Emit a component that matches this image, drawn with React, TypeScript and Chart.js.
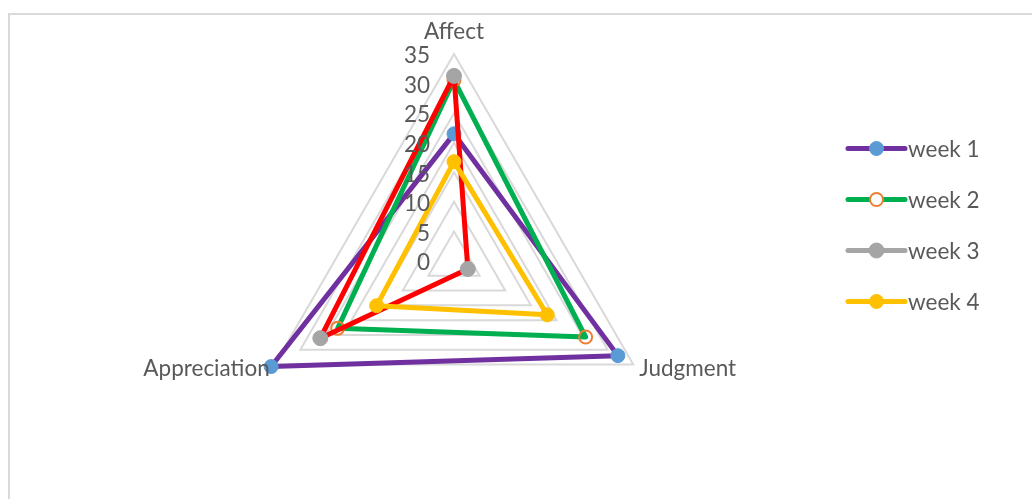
import React, { useEffect, useRef } from "react";
import { Chart, registerables } from "chart.js";

Chart.register(...registerables);

// ---- data ----
const categories = ["Affect", "Judgment", "Appreciation"];
const seriesNames = ["week 1", "week 2", "week 3", "week 4"];
const week1 = [21.5, 32, 35.7];
const week2 = [30.6, 25.7, 22.7];
const week3 = [31.3, 2.7, 26.1];
const week4 = [16.8, 18.2, 15.1];
const axisMin = 0;
const axisMax = 35;
const axisStep = 5;

// ---- styles ----
const FONT_FAMILY = "Lato, 'Open Sans', sans-serif";
const TEXT_COLOR = "#595959";
const GRID_COLOR = "#D9D9D9";

const lineColors = ["#7030A0", "#00B050", "#FF0000", "#FFC000"];
const legendLineColors = ["#7030A0", "#00B050", "#A5A5A5", "#FFC000"];
const markerFill = ["#5B9BD5", "rgba(255,255,255,0)", "#A5A5A5", "#FFC000"];
const markerStroke = ["#5B9BD5", "#ED7D31", "#A5A5A5", "#FFC000"];
const markerRadius = [7, 6.5, 7.5, 7];
const markerBorderWidth = [1, 2, 1, 1];

const overlayPlugin = {
  id: "overlay",
  beforeDraw(chart: any) {
    const ctx = chart.ctx as CanvasRenderingContext2D;
    ctx.save();
    ctx.fillStyle = "#FFFFFF";
    ctx.fillRect(0, 0, chart.width, chart.height);
    ctx.strokeStyle = GRID_COLOR;
    ctx.lineWidth = 2;
    ctx.beginPath();
    ctx.moveTo(9, chart.height + 2);
    ctx.lineTo(9, 14);
    ctx.lineTo(chart.width + 2, 14);
    ctx.stroke();
    ctx.restore();
  },
  afterDraw(chart: any) {
    const ctx = chart.ctx as CanvasRenderingContext2D;
    const scale = chart.scales.r;
    ctx.save();
    ctx.fillStyle = TEXT_COLOR;
    ctx.font = `22.5px ${FONT_FAMILY}`;

    // tick labels, left of the first axis
    ctx.textAlign = "right";
    ctx.textBaseline = "middle";
    scale.ticks.forEach((t: any) => {
      const p = scale.getPointPositionForValue(0, t.value);
      ctx.fillText(String(t.value), p.x - 24, p.y + 2);
    });

    // point labels
    categories.forEach((label, i) => {
      const p = scale.getPointPositionForValue(i, axisMax);
      const dx = p.x - scale.xCenter;
      ctx.textBaseline = "middle";
      if (Math.abs(dx) < 1) {
        ctx.textAlign = "center";
        ctx.fillText(label, p.x, p.y - 22);
      } else if (dx > 0) {
        ctx.textAlign = "left";
        ctx.fillText(label, p.x + 6, p.y + 4);
      } else {
        ctx.textAlign = "right";
        ctx.fillText(label, p.x - 5, p.y + 4);
      }
    });

    // legend
    const lx0 = 848;
    const lx1 = 905;
    const ly0 = 148.5;
    const lgap = 51;
    seriesNames.forEach((name, i) => {
      const y = ly0 + i * lgap;
      ctx.strokeStyle = legendLineColors[i];
      ctx.lineWidth = 5;
      ctx.lineCap = "round";
      ctx.beginPath();
      ctx.moveTo(lx0, y);
      ctx.lineTo(lx1, y);
      ctx.stroke();
      const mx = (lx0 + lx1) / 2;
      ctx.beginPath();
      ctx.arc(mx, y, markerRadius[i], 0, Math.PI * 2);
      ctx.fillStyle = i === 1 ? "#FFFFFF" : markerFill[i];
      ctx.fill();
      ctx.strokeStyle = markerStroke[i];
      ctx.lineWidth = markerBorderWidth[i];
      ctx.stroke();
      ctx.fillStyle = TEXT_COLOR;
      ctx.textAlign = "left";
      ctx.textBaseline = "middle";
      ctx.fillText(name, lx1 + 3, y + 1);
    });
    ctx.restore();
  },
};

export default function App() {
  const canvasRef = useRef<HTMLCanvasElement | null>(null);

  useEffect(() => {
    if (!canvasRef.current) return;
    const series = [week1, week2, week3, week4];
    const chart = new Chart(canvasRef.current, {
      type: "radar",
      data: {
        labels: categories,
        datasets: series.map((values, i) => ({
          label: seriesNames[i],
          data: values,
          borderColor: lineColors[i],
          backgroundColor: lineColors[i],
          borderWidth: 5,
          borderJoinStyle: "round" as const,
          fill: false,
          pointRadius: markerRadius[i],
          pointBackgroundColor: markerFill[i],
          pointBorderColor: markerStroke[i],
          pointBorderWidth: markerBorderWidth[i],
          pointHoverRadius: markerRadius[i],
          order: series.length - i,
        })),
      },
      options: {
        responsive: false,
        animation: false,
        events: [],
        layout: { padding: { left: 247, right: 371, top: 54, bottom: 31 } },
        plugins: {
          legend: { display: false },
          tooltip: { enabled: false },
        },
        scales: {
          r: {
            min: axisMin,
            max: axisMax,
            beginAtZero: true,
            ticks: { stepSize: axisStep, display: false },
            pointLabels: { display: false },
            angleLines: { display: false },
            grid: { color: GRID_COLOR, lineWidth: 2, circular: false },
          },
        },
      },
      plugins: [overlayPlugin],
    });
    return () => chart.destroy();
  }, []);

  return (
    <div style={{ position: "absolute", left: 0, top: 0, width: 1032, height: 499, overflow: "hidden" }}>
      <canvas ref={canvasRef} width={1032} height={499} style={{ display: "block", width: 1032, height: 499 }} />
    </div>
  );
}
